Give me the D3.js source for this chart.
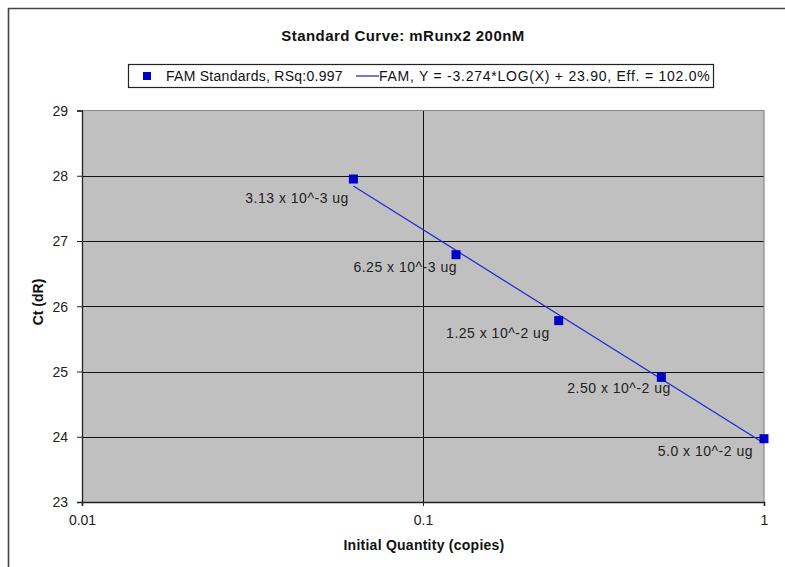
<!DOCTYPE html>
<html>
<head>
<meta charset="utf-8">
<script src="https://cdn.jsdelivr.net/npm/d3@7"></script>
<style>
  html, body { margin: 0; padding: 0; background: #fff; }
  svg { display: block; font-family: "Liberation Sans", Arial, sans-serif; }
</style>
</head>
<body>
<svg id="chart" width="785" height="567"></svg>
<script>
// Standard curve data: quantity (x, log scale) vs Ct
const quantities = [0.0625, 0.125, 0.25, 0.5, 1];
const ctValues = [27.95, 26.79, 25.78, 24.91, 23.97];
const pointLabels = ["3.13 x 10^-3 ug", "6.25 x 10^-3 ug", "1.25 x 10^-2 ug", "2.50 x 10^-2 ug", "5.0 x 10^-2 ug"];
const yTicks = [23, 24, 25, 26, 27, 28, 29];
const xTicks = [0.01, 0.1, 1];
const xTickLabels = ["0.01", "0.1", "1"];
const fitSlope = -3.274;
const fitIntercept = 23.90;
const legendLabels = ["FAM Standards, RSq:0.997", "FAM, Y = -3.274*LOG(X) + 23.90, Eff. = 102.0%"];

const svg = d3.select("#chart");
const plot = { left: 82, right: 764, top: 110.5, bottom: 502 };
const FONT = "Liberation Sans, Arial, sans-serif";

const x = d3.scaleLog().domain([0.01, 1]).range([plot.left, plot.right]);
const y = d3.scaleLinear().domain([23, 29]).range([plot.bottom, plot.top]);

// outer chart frame
svg.append("path")
  .attr("d", `M8.5,${567 + 5} V8.5 H${785 + 5}`)
  .attr("fill", "none").attr("stroke", "#444").attr("stroke-width", 1.6);

// title
svg.append("text")
  .attr("x", 403).attr("y", 41)
  .attr("text-anchor", "middle")
  .attr("font-size", 15).attr("font-weight", "bold").attr("letter-spacing", 0.45).attr("fill", "#111")
  .text("Standard Curve: mRunx2 200nM");

// legend
const lg = svg.append("g");
lg.append("rect").attr("x", 128.5).attr("y", 64.5).attr("width", 585).attr("height", 23)
  .attr("fill", "#fff").attr("stroke", "#222").attr("stroke-width", 1.2);
lg.append("rect").attr("x", 143).attr("y", 72).attr("width", 8).attr("height", 8).attr("fill", "#0000cc");
lg.append("text").attr("x", 166).attr("y", 81).attr("font-size", 14).attr("letter-spacing", 0.27)
  .attr("fill", "#111").text(legendLabels[0]);
lg.append("line").attr("x1", 356).attr("x2", 379).attr("y1", 76).attr("y2", 76)
  .attr("stroke", "#2a2ad6").attr("stroke-width", 1.3);
lg.append("text").attr("x", 379).attr("y", 81).attr("font-size", 14).attr("letter-spacing", 0.75)
  .attr("fill", "#111").text(legendLabels[1]);

// plot background
svg.append("rect")
  .attr("x", plot.left).attr("y", plot.top)
  .attr("width", plot.right - plot.left).attr("height", plot.bottom - plot.top)
  .attr("fill", "#c0c0c0");

// gridlines
svg.append("g").selectAll("line").data(yTicks.slice(1, -1)).join("line")
  .attr("x1", plot.left).attr("x2", plot.right)
  .attr("y1", d => Math.round(y(d)) + 0.5).attr("y2", d => Math.round(y(d)) + 0.5)
  .attr("stroke", "#111").attr("stroke-width", 1);
svg.append("g").selectAll("line").data([0.1]).join("line")
  .attr("x1", d => Math.round(x(d)) + 0.5).attr("x2", d => Math.round(x(d)) + 0.5)
  .attr("y1", plot.top).attr("y2", plot.bottom)
  .attr("stroke", "#111").attr("stroke-width", 1);

// plot border top/right
svg.append("path")
  .attr("d", `M${plot.left},${plot.top} H${plot.right} V${plot.bottom}`)
  .attr("fill", "none").attr("stroke", "#888").attr("stroke-width", 1.2);

// y axis
const yAxis = svg.append("g")
  .attr("transform", `translate(${plot.left},0)`)
  .call(d3.axisLeft(y).tickValues(yTicks).tickSize(5).tickPadding(9).tickFormat(d3.format("d")));
yAxis.select(".domain").attr("stroke", "#222").attr("stroke-width", 1.3);
yAxis.selectAll(".tick line").attr("stroke", "#222");
yAxis.selectAll(".tick text").attr("font-size", 14).attr("fill", "#222")
  .attr("font-family", FONT).attr("dy", "0.35em");

// x axis
const xAxis = svg.append("g")
  .attr("transform", `translate(0,${plot.bottom})`)
  .call(d3.axisBottom(x).tickValues(xTicks).tickSize(4).tickPadding(9)
    .tickFormat((d, i) => xTickLabels[i]));
xAxis.select(".domain").attr("stroke", "#222").attr("stroke-width", 1.6);
xAxis.selectAll(".tick line").attr("stroke", "#222");
xAxis.selectAll(".tick text").attr("font-size", 14).attr("fill", "#222")
  .attr("font-family", FONT);

// axis titles
svg.append("text")
  .attr("x", plot.left + (plot.right - plot.left) / 2 + 1).attr("y", 550)
  .attr("text-anchor", "middle").attr("font-size", 14).attr("font-weight", "bold")
  .attr("letter-spacing", 0.25).attr("fill", "#111")
  .text("Initial Quantity (copies)");
svg.append("text")
  .attr("transform", `translate(43,302) rotate(-90)`)
  .attr("text-anchor", "middle").attr("font-size", 14).attr("font-weight", "bold").attr("fill", "#111")
  .text("Ct (dR)");

// fitted line across the standards
const xExtent = d3.extent(quantities);
svg.append("line")
  .attr("x1", x(xExtent[0])).attr("y1", y(fitSlope * Math.log10(xExtent[0]) + fitIntercept))
  .attr("x2", x(xExtent[1])).attr("y2", y(fitSlope * Math.log10(xExtent[1]) + fitIntercept))
  .attr("stroke", "#2a2ad6").attr("stroke-width", 1.3);

// standards
const pts = quantities.map((q, i) => ({ q, ct: ctValues[i], label: pointLabels[i] }));
svg.append("g").selectAll("rect").data(pts).join("rect")
  .attr("x", d => x(d.q) - 4.5).attr("y", d => y(d.ct) - 4.5)
  .attr("width", 9).attr("height", 9).attr("fill", "#0000cc");

// point labels (right edge offset from the marker, baseline below it)
const labelShift = [[-4.5, 24], [1, 17], [-9, 17], [9.5, 16], [-11, 17]];
svg.append("g").selectAll("text").data(pts).join("text")
  .attr("x", (d, i) => x(d.q) + labelShift[i][0])
  .attr("y", (d, i) => y(d.ct) + labelShift[i][1])
  .attr("text-anchor", "end").attr("font-size", 14).attr("letter-spacing", 0.5).attr("fill", "#222")
  .text(d => d.label);
</script>
</body>
</html>
